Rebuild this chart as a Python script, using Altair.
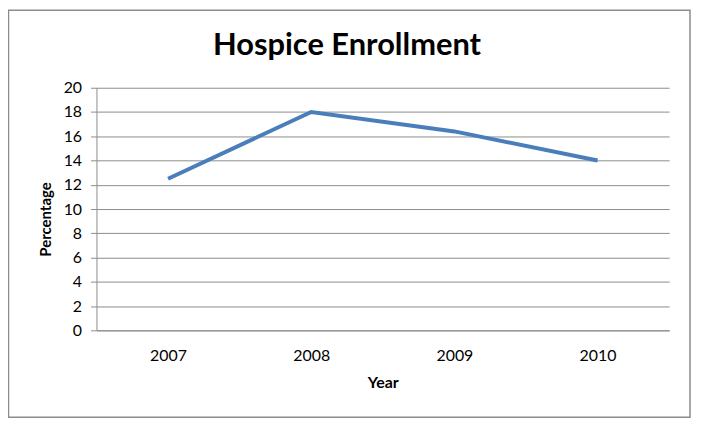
import altair as alt
import pandas as pd

years = ["2007", "2008", "2009", "2010"]
percentage = [12.5, 18.0, 16.4, 14.0]
y_ticks = list(range(0, 21, 2))
title_text = "Hospice Enrollment"

df = pd.DataFrame({"Year": years, "Percentage": percentage})

W, H = 576, 244
FONT = "Lato"
GRAY = "#8c8c8c"

line = alt.Chart(df).mark_line(color="#4A7EBB", strokeWidth=4).encode(
    x=alt.X(
        "Year:N",
        sort=years,
        scale=alt.Scale(type="point", padding=0.5),
        axis=alt.Axis(
            title="Year",
            labelAngle=0,
            ticks=False,
            grid=False,
            domainColor=GRAY,
            labelPadding=17,
            titlePadding=12,
        ),
    ),
    y=alt.Y(
        "Percentage:Q",
        scale=alt.Scale(domain=[0, 20], nice=False, zero=True),
        axis=alt.Axis(
            title="Percentage",
            values=y_ticks,
            grid=True,
            gridColor=GRAY,
            domainColor=GRAY,
            tickColor=GRAY,
            tickSize=6,
            labelPadding=9,
            titlePadding=10,
            titleY=132,
            titleFontSize=15,
        ),
    ),
)

single = pd.DataFrame({"b": [0]})

border = alt.Chart(single).mark_rect(
    fillOpacity=0, stroke=GRAY, strokeWidth=1.5
).encode(
    x=alt.value(-88.5), x2=alt.value(597), y=alt.value(-78), y2=alt.value(331.5)
)

title = alt.Chart(single).mark_text(
    font=FONT, fontSize=31, fontWeight="bold", color="black",
    align="center", baseline="alphabetic",
).encode(
    x=alt.value(252), y=alt.value(-33), text=alt.value(title_text)
)

chart = alt.layer(border, title, line).properties(
    width=W,
    height=H,
    autosize=alt.AutoSizeParams(type="none"),
    padding={"left": 89, "top": 79, "right": 24, "bottom": 91},
).configure_view(strokeWidth=0).configure_axis(
    labelFont=FONT,
    labelFontSize=16,
    labelColor="black",
    titleFont=FONT,
    titleFontSize=16,
    titleFontWeight="bold",
    titleColor="black",
)

chart.save("out.html", embed_options={"renderer": "svg", "actions": False})
